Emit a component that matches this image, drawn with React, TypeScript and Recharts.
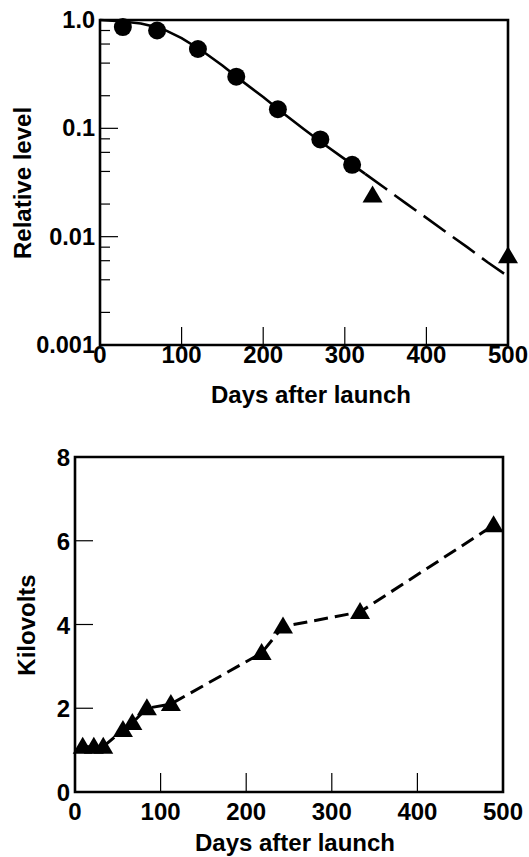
import React from "react";
import {
  ComposedChart,
  LineChart,
  Line,
  Scatter,
  XAxis,
  YAxis,
  ReferenceArea,
  Label,
} from "recharts";

const FONT = "'Liberation Sans', Arial, Helvetica, sans-serif";

// upper panel: relative level (log) vs days
const curveDays = [0, 25, 50, 75, 100, 125, 150, 175, 200, 225, 250, 275, 300, 325, 350, 375, 400, 425, 450, 475, 500];
const curveLevel = [1.0, 0.975, 0.93, 0.84, 0.68, 0.52, 0.38, 0.27, 0.195, 0.137, 0.098, 0.071, 0.052, 0.038, 0.0278, 0.0203, 0.0149, 0.0109, 0.008, 0.0058, 0.0043];
const circleDays = [28, 70, 120, 167, 218, 270, 309];
const circleLevel = [0.86, 0.8, 0.54, 0.3, 0.15, 0.079, 0.046];
const triangleDays = [334, 500];
const triangleLevel = [0.024, 0.0066];
const levelTicks = [0.001, 0.002, 0.004, 0.006, 0.008, 0.01, 0.02, 0.04, 0.06, 0.08, 0.1, 0.2, 0.4, 0.6, 0.8, 1];
const levelMajor = [0.001, 0.01, 0.1, 1];
const dayTicks = [0, 100, 200, 300, 400, 500];

// lower panel: kilovolts vs days
const voltDays = [9, 22, 33, 56, 67, 84, 112, 218, 243, 333, 489];
const voltKV = [1.08, 1.08, 1.08, 1.48, 1.65, 2.0, 2.1, 3.32, 3.95, 4.3, 6.37];
const kvTicks = [0, 2, 4, 6, 8];

const SPLIT_DAY = 325; // solid fit ends, dashed extrapolation begins

const curve = curveDays.map((d, i) => ({ day: d, level: curveLevel[i] }));
const solidCurve = curve.filter((p) => p.day <= SPLIT_DAY);
const dashedCurve = curve.filter((p) => p.day >= SPLIT_DAY);
const circles = circleDays.map((d, i) => ({ day: d, level: circleLevel[i] }));
const triangles = triangleDays.map((d, i) => ({ day: d, level: triangleLevel[i] }));
const volts = voltDays.map((d, i) => ({ day: d, kv: voltKV[i] }));

const TICK = 8;
const txt = { fontFamily: FONT, fontWeight: 700, fill: "#000" };

const LogYTick = ({ x, y, payload }: any) => {
  const ax = x + TICK;
  const v = payload.value;
  const major = levelMajor.includes(v);
  return (
    <g>
      <line x1={ax} x2={ax + (major ? 18 : 10)} y1={y} y2={y} stroke="#000" strokeWidth={1.2} />
      {major && (
        <text x={ax - 5} y={y + 8} textAnchor="end" fontSize={23.5} {...txt}>
          {v === 1 ? "1.0" : String(v)}
        </text>
      )}
    </g>
  );
};

const TopXTick = ({ x, y, payload }: any) => {
  const ay = y - TICK;
  const v = payload.value;
  return (
    <g>
      {v > 0 && v < 500 && <line x1={x} x2={x} y1={ay} y2={ay - 18} stroke="#000" strokeWidth={1.2} />}
      <text x={x} y={ay + 18} textAnchor="middle" fontSize={24} {...txt}>
        {v}
      </text>
    </g>
  );
};

const KvYTick = ({ x, y, payload }: any) => {
  const ax = x + TICK;
  const v = payload.value;
  return (
    <g>
      {v > 0 && v < 8 && <line x1={ax} x2={ax + 18} y1={y} y2={y} stroke="#000" strokeWidth={1.2} />}
      <text x={ax - 5} y={y + 9} textAnchor="end" fontSize={24} {...txt}>
        {v}
      </text>
    </g>
  );
};

const BottomXTick = ({ x, y, payload }: any) => {
  const ay = y - TICK;
  const v = payload.value;
  return (
    <g>
      {v > 0 && v < 500 && <line x1={x} x2={x} y1={ay} y2={ay - 19} stroke="#000" strokeWidth={1.2} />}
      <text x={x} y={ay + 28} textAnchor="middle" fontSize={24} {...txt}>
        {v}
      </text>
    </g>
  );
};

const Dot = (p: any) => <circle cx={p.cx} cy={p.cy} r={9} fill="#000" />;
const Tri = (p: any) => (
  <path key={p.index} d={`M${p.cx},${p.cy - 10} L${p.cx + 10},${p.cy + 7} L${p.cx - 10},${p.cy + 7} Z`} fill="#000" />
);

const yTitle = (text: string, cx: number, cy: number) => () => (
  <text x={cx} y={cy} transform={`rotate(-90, ${cx}, ${cy})`} textAnchor="middle" dominantBaseline="central" fontSize={24} {...txt}>
    {text}
  </text>
);
const xTitle = (text: string, cx: number, y: number) => () => (
  <text x={cx} y={y} textAnchor="middle" fontSize={24} {...txt}>
    {text}
  </text>
);

export default function App() {
  return (
    <div style={{ position: "absolute", left: 0, top: 0, width: 529, height: 857, background: "#fff" }}>
      <ComposedChart width={529} height={420} margin={{ top: 20, right: 21, bottom: 45, left: 40 }}>
        <XAxis
          dataKey="day"
          type="number"
          domain={[0, 500]}
          ticks={dayTicks}
          interval={0}
          height={30}
          axisLine={false}
          tickLine={false}
          tickSize={TICK}
          tickMargin={0}
          tick={<TopXTick />}
        >
          <Label content={xTitle("Days after launch", 311, 403)} />
        </XAxis>
        <YAxis
          type="number"
          scale="log"
          domain={[0.001, 1]}
          ticks={levelTicks}
          interval={0}
          width={60}
          axisLine={false}
          tickLine={false}
          tickSize={TICK}
          tickMargin={0}
          tick={<LogYTick />}
        >
          <Label content={yTitle("Relative level", 22, 183)} />
        </YAxis>
        <ReferenceArea x1={0} x2={500} y1={0.001} y2={1} fill="none" stroke="#000" strokeWidth={2.6} />
        <Line data={solidCurve} dataKey="level" stroke="#000" strokeWidth={2.6} dot={false} isAnimationActive={false} />
        <Line data={dashedCurve} dataKey="level" stroke="#000" strokeWidth={2.6} strokeDasharray="27 9" dot={false} isAnimationActive={false} />
        <Scatter data={circles} dataKey="level" shape={<Dot />} isAnimationActive={false} />
        <Scatter data={triangles} dataKey="level" shape={<Tri />} isAnimationActive={false} />
      </ComposedChart>

      <LineChart width={529} height={437} data={volts} margin={{ top: 37, right: 26, bottom: 35, left: 15 }}>
        <XAxis
          dataKey="day"
          type="number"
          domain={[0, 500]}
          ticks={dayTicks}
          interval={0}
          height={30}
          axisLine={false}
          tickLine={false}
          tickSize={TICK}
          tickMargin={0}
          tick={<BottomXTick />}
        >
          <Label content={xTitle("Days after launch", 295, 431)} />
        </XAxis>
        <YAxis
          type="number"
          domain={[0, 8]}
          ticks={kvTicks}
          interval={0}
          width={60}
          axisLine={false}
          tickLine={false}
          tickSize={TICK}
          tickMargin={0}
          tick={<KvYTick />}
        >
          <Label content={yTitle("Kilovolts", 26, 205)} />
        </YAxis>
        <ReferenceArea x1={0} x2={500} y1={0} y2={8} fill="none" stroke="#000" strokeWidth={2.6} />
        <Line dataKey="kv" stroke="#000" strokeWidth={3} strokeDasharray="14 7" dot={<Tri />} isAnimationActive={false} />
      </LineChart>
    </div>
  );
}
